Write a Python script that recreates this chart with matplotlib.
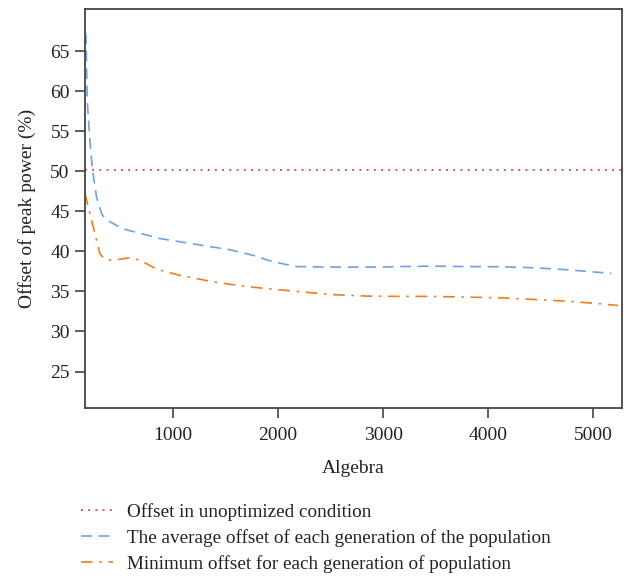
import numpy as np
import matplotlib
matplotlib.use("Agg")
import matplotlib.pyplot as plt

plt.rcParams['font.family'] = ['Liberation Serif', 'DejaVu Serif']

# unoptimized baseline
base_level = 50.15

# average offset per generation
avg_x = [160, 169, 181, 206, 232, 270, 318, 350, 397, 524, 873, 1159, 1540, 1762,
         1952, 2175, 2492, 2968, 3159, 3476, 3794, 4111, 4429, 4746, 5175]
avg_y = [67.2, 67.0, 58.9, 53.9, 50.1, 46.8, 44.7, 44.1, 43.7, 42.8, 41.6, 41.0,
         40.2, 39.5, 38.7, 38.1, 38.04, 38.04, 38.1, 38.16, 38.1, 38.08, 37.96, 37.71, 37.25]

# minimum offset per generation
min_x = [160, 207, 254, 302, 350, 429, 587, 683, 841, 1063, 1381, 1699, 2175,
         2524, 2841, 3159, 3476, 3794, 4111, 4429, 4746, 5063, 5238]
min_y = [47.2, 44.7, 42.2, 39.7, 39.0, 38.9, 39.2, 38.9, 37.8, 37.0, 36.2, 35.6,
         35.0, 34.6, 34.42, 34.38, 34.38, 34.29, 34.21, 34.0, 33.79, 33.46, 33.25]

labels = ["Offset in unoptimized condition",
          "The average offset of each generation of the population",
          "Minimum offset for each generation of population"]

fig = plt.figure(figsize=(6.32, 5.79), dpi=100)
ax = fig.add_axes([0.1345, 0.2953, 0.8495, 0.6892])

l1 = ax.axhline(base_level, color='#d9413a', ls=(0, (1, 3)), lw=1.3)
l2, = ax.plot(avg_x, avg_y, color='#6fa3dc', ls=(0, (6.5, 4)), lw=1.2)
l3, = ax.plot(min_x, min_y, color='#f07d1e', ls=(0, (7, 4, 1.5, 4)), lw=1.2)

ax.set_xlim(160, 5275)
ax.set_ylim(20.45, 70.25)
ax.set_xticks([1000, 2000, 3000, 4000, 5000])
ax.set_yticks([25, 30, 35, 40, 45, 50, 55, 60, 65])
ax.tick_params(direction='out', length=7, width=1.1, color='#333333',
               labelsize=14, labelcolor='#222222', pad=4)
ax.tick_params(axis='x', pad=7)
for s in ax.spines.values():
    s.set_color('#444444')
    s.set_linewidth(1.3)

ax.set_xlabel("Algebra", fontsize=14, color='#222222', labelpad=11)
ax.set_ylabel("Offset of peak power (%)", fontsize=14, color='#222222', labelpad=10)

fig.legend([l1, l2, l3], labels, loc='upper left', bbox_to_anchor=(0.128, 0.131),
           frameon=False, fontsize=13.8, handlelength=1.67, handletextpad=0.73,
           labelspacing=0.42, borderaxespad=0, borderpad=0, labelcolor='#222222')

fig.savefig("out.png", dpi=100)
